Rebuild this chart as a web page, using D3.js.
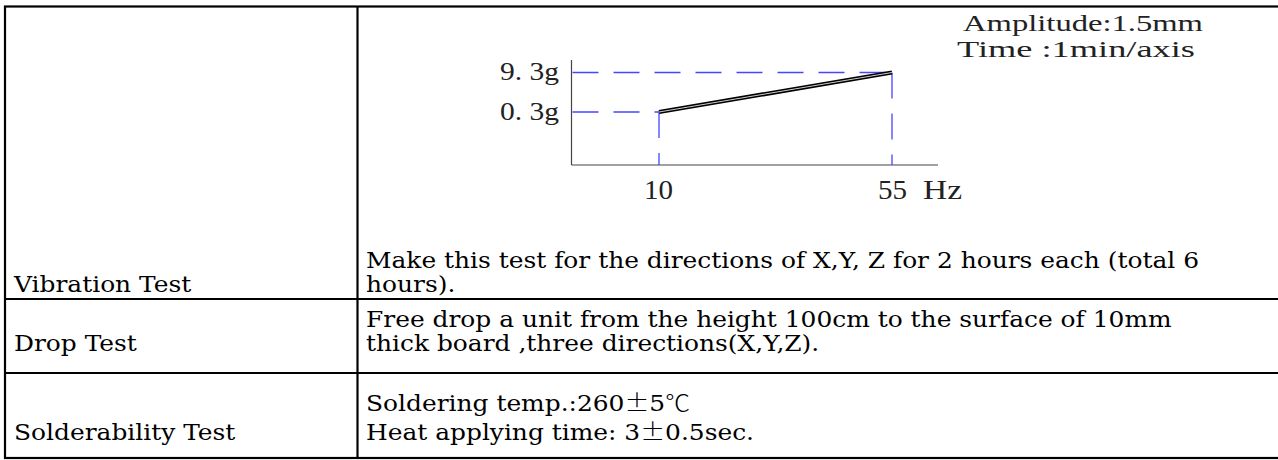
<!DOCTYPE html>
<html><head><meta charset="utf-8">
<script src="https://cdn.jsdelivr.net/npm/d3@7"></script>
<style>body{margin:0;background:#fff}svg{display:block}</style>
</head><body><svg id="c" width="1278" height="460"></svg>
<script>
// ---- data ----
const tests = ["Vibration Test", "Drop Test", "Solderability Test"];
const testLines = [
  ["Make this test for the directions of X,Y, Z for 2 hours each (total 6", "hours)."],
  ["Free drop a unit from the height 100cm to the surface of 10mm", "thick board ,three directions(X,Y,Z)."],
  ["Soldering temp.:260\u00B15\u2103", "Heat applying time: 3\u00B10.5sec."]
];
const sweepFreq = [10, 55];          // Hz
const sweepAccel = [0.3, 9.3];       // g
const freqTickLabels = ["10", "55"];
const accelTickLabels = ["0. 3g", "9. 3g"];
const freqUnit = "Hz";
const notes = ["Amplitude:1.5mm", "Time :1min/axis"];

// ---- layout ----
const svg = d3.select("#c");
const tableLeft = 5, tableRight = 1295, colDiv = 357.5;
const rowY = [6.5, 299, 373, 458];
const lineW = 2.2;
const tableFont = "'DejaVu Serif', serif";
const tableSize = 22.5;
const chartFont = "'Liberation Serif', serif";

const g = svg.append("g");
g.append("rect").attr("x", tableLeft).attr("y", rowY[0])
  .attr("width", tableRight - tableLeft).attr("height", rowY[3] - rowY[0])
  .attr("fill", "none").attr("stroke", "#000").attr("stroke-width", lineW);
g.selectAll("line.row").data(rowY.slice(1, 3)).join("line")
  .attr("x1", tableLeft).attr("x2", tableRight).attr("y1", d => d).attr("y2", d => d)
  .attr("stroke", "#000").attr("stroke-width", lineW);
g.append("line").attr("x1", colDiv).attr("x2", colDiv).attr("y1", rowY[0]).attr("y2", rowY[3])
  .attr("stroke", "#000").attr("stroke-width", lineW);

function addRich(sel, str) {
  const parts = str.split(/([\u00B1\u2103])/).filter(s => s.length);
  parts.forEach(p => {
    const t = sel.append("tspan").text(p);
    if (/[\u00B1\u2103]/.test(p)) t.attr("font-family", "'Noto Sans CJK SC', sans-serif").attr("font-weight", 300);
  });
}
const leftX = 14, rightX = 366;
const rowBase = [292, 351, 440];
const lineGaps = [24, 24, 29];

const texts = [];
tests.forEach((t, i) => {
  const el = g.append("text").attr("x", leftX).attr("y", rowBase[i])
    .attr("font-family", tableFont).attr("font-size", tableSize).attr("fill", "#000").text(t);
  texts.push(el);
  testLines[i].forEach((ln, j) => {
    const yy = rowBase[i] - (testLines[i].length - 1 - j) * lineGaps[i];
    const e = g.append("text").attr("x", rightX).attr("y", yy)
      .attr("font-family", tableFont).attr("font-size", tableSize).attr("fill", "#000");
    addRich(e, ln);
    texts.push(e);
  });
});
const refLen = texts[1].node().getComputedTextLength();
const factor = (1199 - rightX) / refLen;
texts.forEach(e => {
  const L = e.node().getComputedTextLength();
  e.attr("textLength", L * factor).attr("lengthAdjust", "spacingAndGlyphs");
});

// ---- vibration chart ----
const x = d3.scaleLinear().domain([sweepFreq[0], sweepFreq[1]]).range([659, 892]);
const y = d3.scaleLinear().domain([sweepAccel[0], sweepAccel[1]]).range([112, 72.5]);
const axX0 = 571.5, axX1 = 938, axY0 = 165, axY1 = 60;
const ch = svg.append("g");
ch.append("line").attr("x1", axX0).attr("x2", axX0).attr("y1", axY1).attr("y2", axY0)
  .attr("stroke", "#444").attr("stroke-width", 1.2);
ch.append("line").attr("x1", axX0).attr("x2", axX1).attr("y1", axY0).attr("y2", axY0)
  .attr("stroke", "#444").attr("stroke-width", 1.2);

const pts = sweepFreq.map((f, i) => ({ f, a: sweepAccel[i] }));
const blue = "#4646ff";
ch.selectAll("line.h").data(pts).join("line")
  .attr("x1", axX0 + 1).attr("x2", d => x(d.f)).attr("y1", d => y(d.a)).attr("y2", d => y(d.a))
  .attr("stroke", blue).attr("stroke-width", 1.3).attr("stroke-dasharray", "26,15");
ch.selectAll("line.v").data(pts).join("line")
  .attr("x1", d => x(d.f)).attr("x2", d => x(d.f)).attr("y1", d => y(d.a)).attr("y2", axY0)
  .attr("stroke", blue).attr("stroke-width", 1.3).attr("stroke-dasharray", "26,15");

const lineGen = d3.line().x(d => x(d.f)).y(d => y(d.a));
ch.append("path").datum(pts).attr("d", lineGen).attr("fill", "none")
  .attr("stroke", "#000").attr("stroke-width", 4.2);
ch.append("path").datum(pts).attr("d", lineGen).attr("fill", "none")
  .attr("stroke", "#ccc").attr("stroke-width", 1);

const yAxis = d3.axisLeft(y).tickValues(sweepAccel).tickSize(0).tickPadding(0)
  .tickFormat((d, i) => accelTickLabels[i]);
const ya = ch.append("g").attr("transform", `translate(559,0)`).call(yAxis);
ya.select(".domain").remove();
ya.selectAll("text").attr("font-family", chartFont).attr("font-size", 26).attr("fill", "#222")
  .attr("dy", 7).attr("textLength", 59).attr("lengthAdjust", "spacingAndGlyphs");

const xAxis = d3.axisBottom(x).tickValues(sweepFreq).tickSize(0).tickPadding(0)
  .tickFormat((d, i) => freqTickLabels[i]);
const xa = ch.append("g").attr("transform", `translate(0,${axY0})`).call(xAxis);
xa.select(".domain").remove();
xa.selectAll("text").attr("font-family", chartFont).attr("font-size", 27).attr("fill", "#222")
  .attr("dy", 34).attr("y", 0).attr("textLength", 29).attr("lengthAdjust", "spacingAndGlyphs")
  .attr("text-anchor", "middle").attr("x", (d, i) => i === 0 ? -1 : 0);
ch.append("text").attr("x", 923).attr("y", axY0 + 34).attr("font-family", chartFont)
  .attr("font-size", 27).attr("fill", "#222").attr("textLength", 39)
  .attr("lengthAdjust", "spacingAndGlyphs").text(freqUnit);

const noteX = [963, 957], noteY = [31, 57], noteLen = [240, 238];
notes.forEach((n, i) => {
  ch.append("text").attr("x", noteX[i]).attr("y", noteY[i]).attr("font-family", chartFont)
    .attr("font-size", 23).attr("fill", "#222").attr("textLength", noteLen[i])
    .attr("lengthAdjust", "spacingAndGlyphs").text(n);
});
</script></body></html>
